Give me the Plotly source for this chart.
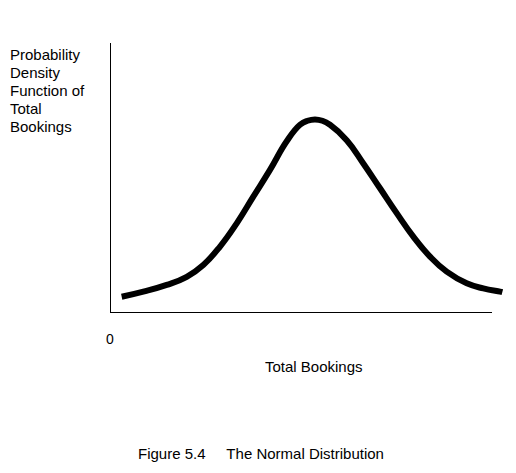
import plotly.graph_objects as go

# Total bookings (arbitrary units, axis drawn from 0 to 100)
bookings = [3.06, 8.72, 14.84, 20.08, 24.42, 28.80, 33.17, 37.51, 41.88, 46.26, 49.74, 51.7,
            53.66, 55.6, 57.59, 61.96, 66.31, 70.68, 75.05, 79.40, 83.77, 88.14, 93.38, 97.72,
            102.09, 102.7]
# Probability density (relative units)
density = [0.060, 0.079, 0.104, 0.134, 0.178, 0.246, 0.332, 0.431, 0.530, 0.636, 0.697, 0.712,
           0.717, 0.712, 0.697, 0.640, 0.554, 0.462, 0.370, 0.283, 0.209, 0.153, 0.110, 0.091,
           0.079, 0.077]

x_axis_end = 100
y_axis_end = 1.0
x_tick_label = "0"
x_title = "Total Bookings"
y_title_lines = ["Probability", "Density", "Function of", "Total", "Bookings"]
caption = "Figure 5.4&nbsp;&nbsp;&nbsp;&nbsp;&nbsp;The Normal Distribution"

FONT = "Liberation Sans, Arial, Helvetica, sans-serif"
W, H = 516, 473
L, R, T, B = 110, 11, 43, 160
PW, PH = W - L - R, H - T - B


def px_x(px):
    return (px - L) / PW


def px_y(py):
    return (H - B - py) / PH


fig = go.Figure()
fig.add_trace(go.Scatter(
    x=bookings, y=density, mode="lines",
    line=dict(color="black", width=6, shape="spline", smoothing=1.3),
    hoverinfo="skip", showlegend=False,
))

# axis lines
fig.add_shape(type="line", x0=0, y0=0, x1=x_axis_end, y1=0, xref="x", yref="y",
              line=dict(color="black", width=2))
fig.add_shape(type="line", x0=0, y0=0, x1=0, y1=y_axis_end, xref="x", yref="y",
              line=dict(color="black", width=2))

fig.add_annotation(x=0, y=0, xref="x", yref="y", text=x_tick_label, showarrow=False,
                   yshift=-26, font=dict(size=14, color="black", family=FONT))
fig.add_annotation(x=53.5, y=0, xref="x", yref="y", text=x_title, showarrow=False,
                   yshift=-53, font=dict(size=15, color="black", family=FONT))
for i, line in enumerate(y_title_lines):
    fig.add_annotation(x=px_x(8), y=px_y(54 + 18.2 * i), xref="paper", yref="paper",
                       text=line, showarrow=False, xanchor="left", yanchor="middle",
                       font=dict(size=15, color="black", family=FONT))
fig.add_annotation(x=px_x(261), y=px_y(453), xref="paper", yref="paper", text=caption,
                   showarrow=False, xanchor="center", yanchor="middle",
                   font=dict(size=15, color="black", family=FONT))

fig.update_layout(
    width=W, height=H,
    margin=dict(l=L, r=R, t=T, b=B),
    paper_bgcolor="white", plot_bgcolor="white",
    xaxis=dict(range=[0, 103.4], visible=False, fixedrange=True),
    yaxis=dict(range=[0, 1.0], visible=False, fixedrange=True),
    font=dict(family=FONT, color="black"),
)

fig.write_html("out.html")
